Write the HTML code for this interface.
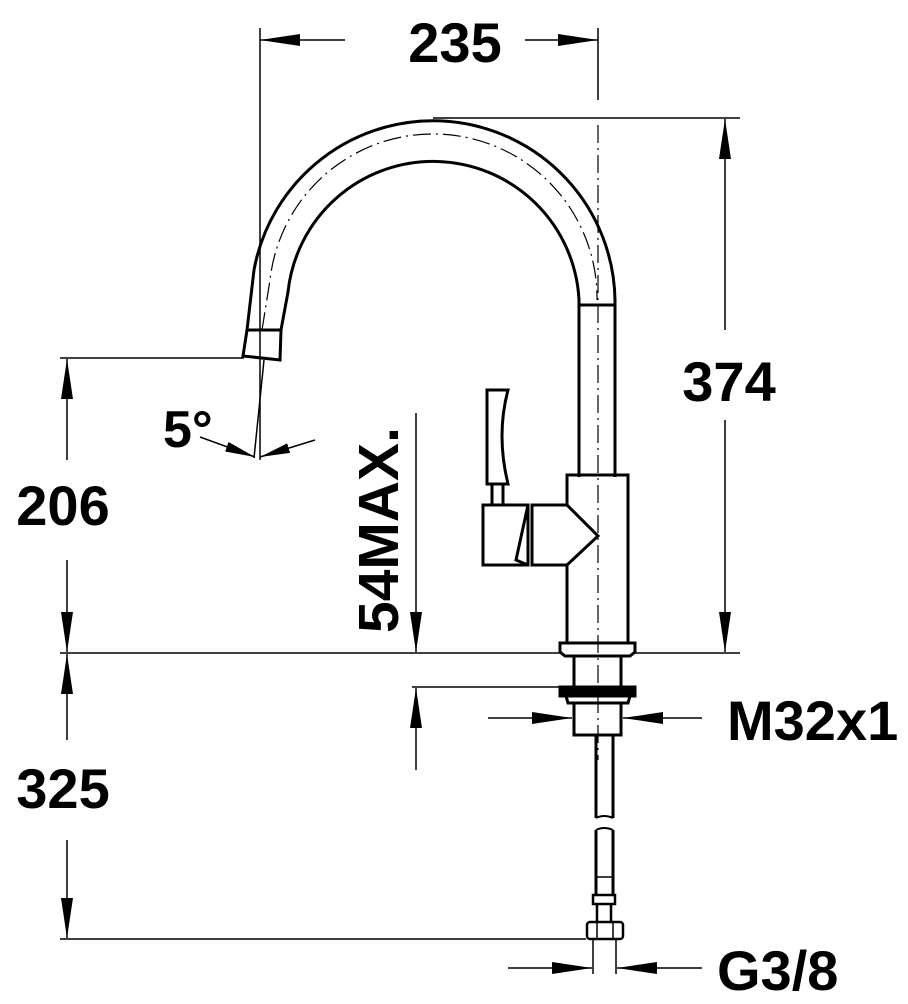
<!DOCTYPE html>
<html><head><meta charset="utf-8"><style>
html,body{margin:0;padding:0;background:#fff;}
svg{display:block;}
text{font-family:"Liberation Sans",Arial,sans-serif;font-weight:bold;fill:#000;}
</style></head><body>
<svg width="908" height="1004" viewBox="0 0 908 1004" xmlns="http://www.w3.org/2000/svg">
<defs>
<marker id="a" viewBox="0 0 40 12" refX="40" refY="6" markerWidth="40" markerHeight="12" markerUnits="userSpaceOnUse" orient="auto"><path d="M0,0 L40,6 L0,12 Z"/></marker>
<marker id="b" viewBox="0 0 30 10" refX="30" refY="5" markerWidth="30" markerHeight="10" markerUnits="userSpaceOnUse" orient="auto"><path d="M0,0 L30,5 L0,10 Z"/></marker>
</defs>
<g stroke="#000" fill="none" stroke-width="1.5">
<line x1="260" y1="28" x2="260" y2="460"/>
<line x1="598" y1="28" x2="598" y2="100"/>
<line x1="433" y1="118" x2="740" y2="118"/>
<line x1="60" y1="358" x2="244" y2="358"/>
<line x1="60" y1="653" x2="560" y2="653"/>
<line x1="635" y1="653" x2="740" y2="653"/>
<line x1="412" y1="687" x2="560" y2="687"/>
<line x1="60" y1="939" x2="586" y2="939"/>
<line x1="593" y1="940" x2="593" y2="974"/>
<line x1="616" y1="940" x2="616" y2="974"/>
<line x1="264" y1="360" x2="254" y2="458"/>
<line x1="345" y1="40" x2="260" y2="40" marker-end="url(#a)"/>
<line x1="525" y1="40" x2="598" y2="40" marker-end="url(#a)"/>
<line x1="725" y1="330" x2="725" y2="119" marker-end="url(#a)"/>
<line x1="725" y1="420" x2="725" y2="652" marker-end="url(#a)"/>
<line x1="67" y1="460" x2="67" y2="359" marker-end="url(#a)"/>
<line x1="67" y1="560" x2="67" y2="652" marker-end="url(#a)"/>
<line x1="67" y1="740" x2="67" y2="654" marker-end="url(#a)"/>
<line x1="67" y1="840" x2="67" y2="938" marker-end="url(#a)"/>
<line x1="416" y1="413" x2="416" y2="652" marker-end="url(#a)"/>
<line x1="416" y1="770" x2="416" y2="688" marker-end="url(#a)"/>
<line x1="488" y1="718" x2="572" y2="718" marker-end="url(#a)"/>
<line x1="702" y1="718" x2="623" y2="718" marker-end="url(#a)"/>
<line x1="508" y1="968" x2="592" y2="968" marker-end="url(#a)"/>
<line x1="702" y1="968" x2="617" y2="968" marker-end="url(#a)"/>
<line x1="200" y1="437" x2="255" y2="457" marker-end="url(#b)"/>
<line x1="315" y1="440" x2="260" y2="457" marker-end="url(#b)"/>
<line x1="598" y1="125" x2="598" y2="760" stroke-width="1.2" stroke-dasharray="18,5,2,5"/>
<path d="M262,330 L270,280 A164,164 0 0 1 597,300" stroke-width="1.2" stroke-dasharray="18,5,2,5"/>
</g>
<g stroke="#000" fill="none" stroke-width="3">
<path d="M247,330 L254,270 A182,182 0 0 1 615,300 L615,477"/>
<path d="M281,330 L288,292 A146,146 0 0 1 579,300 L579,477"/>
<line x1="579" y1="305" x2="615" y2="305"/>
<path d="M247,330 L281,330 L280,360 L243,356 Z"/>
<path d="M487,390 L508,390 Q496,435 508,484 L487,484 Z"/>
<path d="M492,484 L492,505 M503,484 L503,505"/>
<path d="M483,505 L528,505 L528,565 L483,565 Z"/>
<path d="M528,505 L516,560 L528,565"/>
<path d="M532,505 L567,505 L598,536 L567,565 L532,565 Z"/>
<path d="M567,505 L567,475 L628,475 L628,643 L567,643 L567,565"/>
<path d="M560,643 L635,643 L635,652 L630,656 L565,656 L560,652 Z"/>
<path d="M574,656 L574,687 M621,656 L621,687"/>
<rect x="560" y="687" width="75" height="9" fill="#000"/>
<path d="M566,696 L568,703 L628,703 L630,696"/>
<path d="M574,703 L574,735 L621,735 L621,703"/>
<path d="M596,735 L596,818 M613,735 L613,818"/>
<path d="M596,818 Q604,814 613,818" stroke-width="2"/>
<path d="M596,830 Q604,826 613,830" stroke-width="2"/>
<path d="M596,830 L596,895 M613,830 L613,895"/>
<line x1="597" y1="877" x2="612" y2="877" stroke-width="1.5"/>
<rect x="593" y="895" width="22" height="9" stroke-width="2.5"/>
<path d="M597,904 L597,921 M611,904 L611,921" stroke-width="2.5"/>
<rect x="587" y="922" width="36" height="17" rx="3" stroke-width="2.5"/>
<path d="M597,922 L597,939 M613,922 L613,939" stroke-width="1.5"/>
</g>
<text x="455" y="62" font-size="56" text-anchor="middle">235</text>
<text x="729" y="401" font-size="56" text-anchor="middle">374</text>
<text x="63" y="525" font-size="56" text-anchor="middle">206</text>
<text x="63" y="808" font-size="56" text-anchor="middle">325</text>
<text x="727" y="740" font-size="56">M32x1</text>
<text x="717" y="990" font-size="56">G3/8</text>
<text x="163" y="447" font-size="52">5°</text>
<text x="0" y="0" font-size="57" transform="translate(398,633) rotate(-90)">54MAX.</text>
</svg>
</body></html>
